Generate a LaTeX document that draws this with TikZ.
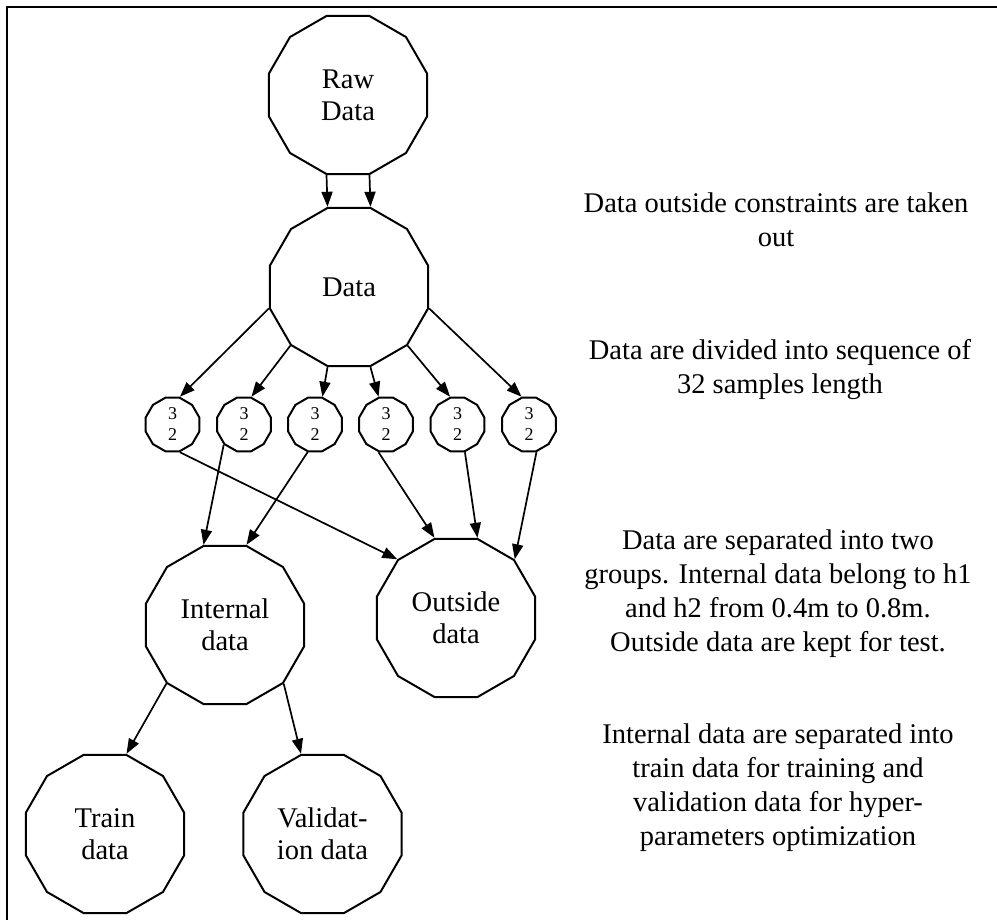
\documentclass[tikz,border=0pt]{standalone}
\usepackage{fontspec}
\setmainfont{Liberation Serif}
\usetikzlibrary{shapes.geometric,arrows.meta}
\begin{document}
\begin{tikzpicture}[x=1pt,y=-1pt,
 big/.style={draw, regular polygon, regular polygon sides=12, minimum size=164pt, inner sep=0pt, line width=2pt, align=center, font=\fontsize{28.5}{32}\selectfont},
 small/.style={draw, regular polygon, regular polygon sides=12, minimum size=55.4pt, inner sep=0pt, line width=2pt, align=center, font=\fontsize{18}{21}\selectfont},
 note/.style={align=center, font=\fontsize{28.5}{34}\selectfont},
 arr/.style={-{Triangle[length=15pt,width=11pt]}, line width=1.7pt}]
\useasboundingbox (0,0) rectangle (997,920);
\draw[line width=1.5pt] (997,7) -- (7,7) -- (7,920);

\node[big] (rd) at (348,95) {Raw\\Data};
\node[big] (d) at (349,287) {Data};
\node[small] (s1) at (172.5,424.5) {3\\2};
\node[small] (s2) at (244,424.5) {3\\2};
\node[small] (s3) at (315,424.5) {3\\2};
\node[small] (s4) at (386,424.5) {3\\2};
\node[small] (s5) at (457.5,424.5) {3\\2};
\node[small] (s6) at (529,424.5) {3\\2};
\node[big] (in) at (225,625) {Internal\\data};
\node[big] (out) at (456,618) {Outside\\data};
\node[big] (tr) at (105,834) {Train\\data};
\node[big] (va) at (322.5,834) {Validat-\\ion data};

\draw[arr] (rd.255) -- (d.105);
\draw[arr] (rd.285) -- (d.75);
\draw[arr] (d.195) -- (s1.75);
\draw[arr] (d.225) -- (s2.75);
\draw[arr] (d.255) -- (s3.75);
\draw[arr] (d.285) -- (s4.105);
\draw[arr] (d.315) -- (s5.105);
\draw[arr] (d.345) -- (s6.105);
\draw[arr] (s1.285) -- (out.135);
\draw[arr] (s2.225) -- (in.105);
\draw[arr] (s3.255) -- (in.75);
\draw[arr] (s4.255) -- (out.105);
\draw[arr] (s5.285) -- (out.75);
\draw[arr] (s6.285) -- (out.45);
\draw[arr] (in.225) -- (tr.75);
\draw[arr] (in.315) -- (va.105);

\node[note] (n1) at (776,219.5) {Data outside constraints are taken\\out};
\node[note] (n2) at (780,369.5) {Data are divided into sequence of\\32 samples length};
\node[note] (n3) at (778,594) {Data are separated into two\\groups. Internal data belong to h1\\and h2 from 0.4m to 0.8m.\\Outside data are kept for test.};
\node[note] (n4) at (778,788) {Internal data are separated into\\train data for training and\\validation data for hyper-\\parameters optimization};
\end{tikzpicture}
\end{document}
